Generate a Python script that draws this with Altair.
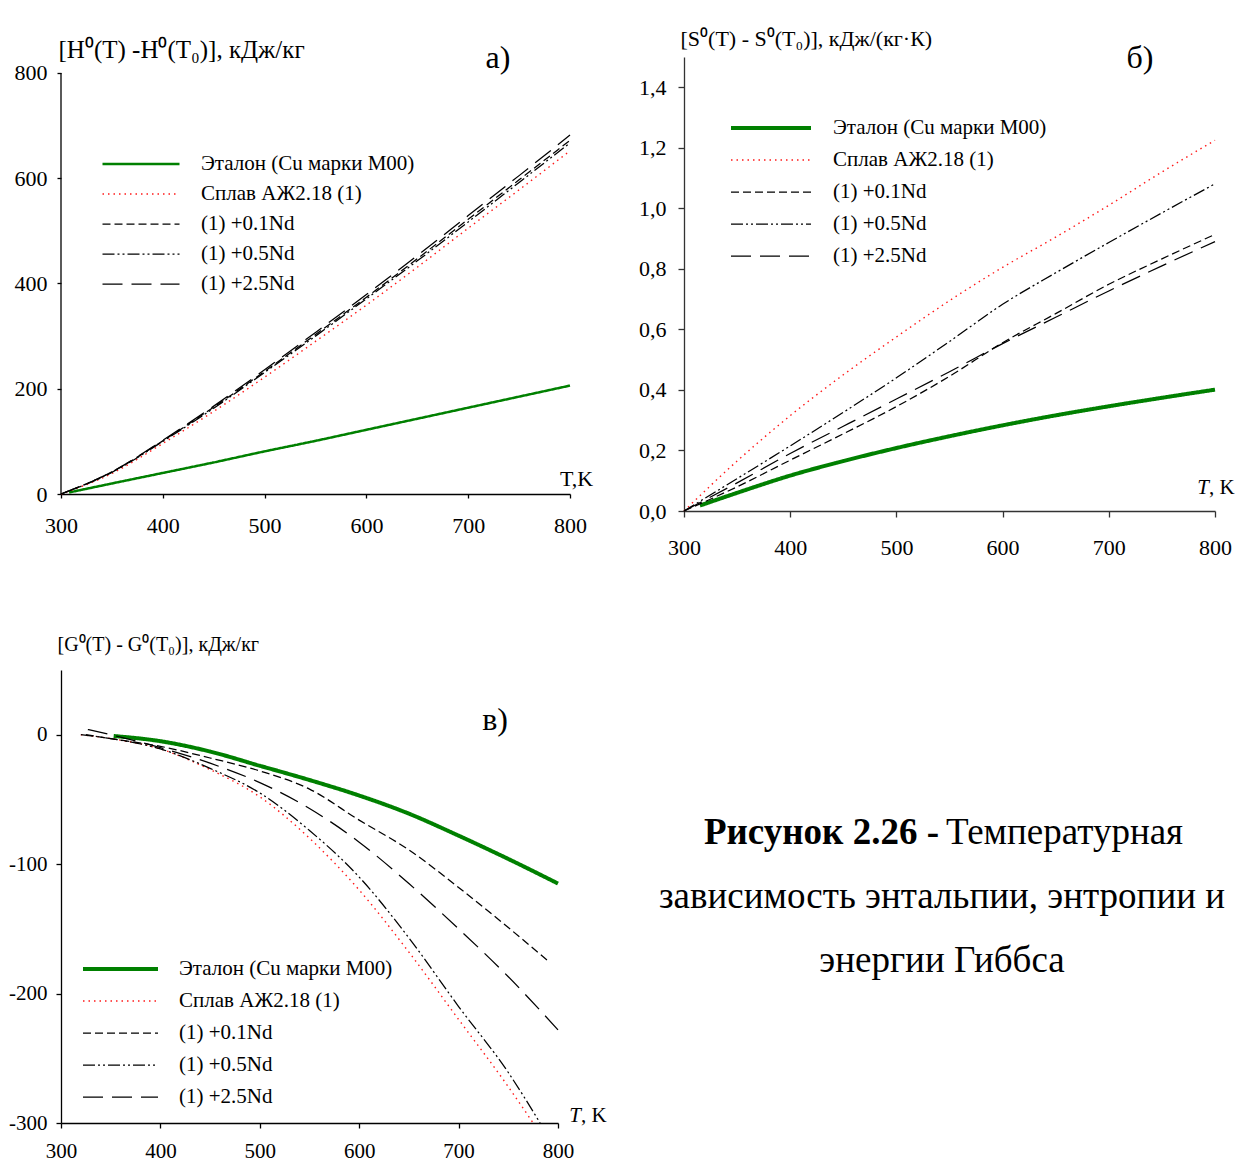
import altair as alt
import pandas as pd

FONT = "Liberation Serif"

SERIES = ["Эталон (Cu марки М00)", "Сплав АЖ2.18 (1)", "(1) +0.1Nd", "(1) +0.5Nd", "(1) +2.5Nd"]
COLORS = ["#008000", "#ff1a1a", "#000000", "#000000", "#000000"]
DASHES = [[1, 0], [1.5, 4], [8, 4], [12, 3, 2, 3, 2, 3], [20, 9]]

# ---------- panel a: enthalpy ----------
T_A = [300, 350, 400, 450, 500, 550, 600, 650, 700, 750, 800]
T_A_ETALON = [308, 350, 400, 450, 500, 550, 600, 650, 700, 750, 800]
H_ETALON = [3, 20, 40, 60, 81, 101, 122, 143, 164, 185, 206]
H_SPLAV = [0, 39, 96, 157, 222, 290, 359, 431, 505, 578, 652]
H_01 = [0, 42, 101, 165, 233, 303, 374, 447, 522, 597, 672]
H_05 = [0, 41, 100, 163, 231, 300, 371, 443, 517, 592, 667]
H_25 = [0, 42, 102, 167, 236, 307, 379, 453, 529, 605, 682]
H_TICKS = [0, 200, 400, 600, 800]

# ---------- panel b: entropy ----------
T_B = [300, 350, 400, 450, 500, 550, 600, 650, 700, 750, 800]
T_B_ETALON = [315, 350, 400, 450, 500, 550, 600, 650, 700, 750, 800]
S_ETALON = [0.018, 0.06, 0.117, 0.165, 0.208, 0.247, 0.283, 0.316, 0.346, 0.374, 0.401]
S_SPLAV = [0, 0.165, 0.315, 0.45, 0.575, 0.695, 0.805, 0.905, 1.01, 1.12, 1.225]
S_01 = [0, 0.08, 0.168, 0.255, 0.345, 0.445, 0.556, 0.652, 0.749, 0.833, 0.914]
S_05 = [0, 0.107, 0.215, 0.326, 0.44, 0.56, 0.683, 0.787, 0.887, 0.985, 1.081]
S_25 = [0, 0.093, 0.19, 0.28, 0.37, 0.46, 0.553, 0.64, 0.727, 0.81, 0.89]
S_TICKS = [0, 0.2, 0.4, 0.6, 0.8, 1.0, 1.2, 1.4]

# ---------- panel c: Gibbs energy ----------
T_C_ETALON = [353, 400, 450, 500, 550, 600, 650, 700, 750, 800]
G_ETALON = [-1, -5, -13, -24, -35, -47, -61, -78, -96, -115]
T_C_SPLAV = [320, 350, 400, 450, 500, 550, 600, 650, 700, 750, 775]
G_SPLAV = [0, -3, -11, -27, -48, -80, -120, -168, -220, -272, -300]
T_C_01 = [325, 350, 400, 450, 500, 550, 600, 650, 700, 750, 792]
G_01 = [0, -3, -9, -18, -28, -42, -66, -89, -118, -149, -176]
T_C_05 = [320, 350, 400, 450, 500, 550, 600, 650, 700, 750, 782]
G_05 = [0, -3, -11, -26, -45, -74, -110, -157, -210, -261, -300]
T_C_25 = [327, 350, 400, 450, 500, 550, 600, 650, 700, 750, 800]
G_25 = [4, 0, -10, -22, -37, -57, -83, -115, -150, -187, -228]
G_TICKS = [-300, -200, -100, 0]

X_TICKS = [300, 400, 500, 600, 700, 800]

CAPTION_BOLD = "Рисунок 2.26 - "
CAPTION_LINES = ["Температурная", "зависимость энтальпии, энтропии и", "энергии Гиббса"]


def long_df(field, pairs):
    rows = []
    for name, (ts, vs) in zip(SERIES, pairs):
        for t, v in zip(ts, vs):
            rows.append({"T": t, "v": v, field: name})
    return pd.DataFrame(rows)


df_a = long_df("sa", [(T_A_ETALON, H_ETALON), (T_A, H_SPLAV), (T_A, H_01), (T_A, H_05), (T_A, H_25)])
df_b = long_df("sb", [(T_B_ETALON, S_ETALON), (T_B, S_SPLAV), (T_B, S_01), (T_B, S_05), (T_B, S_25)])
df_c = long_df("sc", [(T_C_ETALON, G_ETALON), (T_C_SPLAV, G_SPLAV), (T_C_01, G_01),
                      (T_C_05, G_05), (T_C_25, G_25)])

ONE = pd.DataFrame({"k": [0]})


def spacer(x1, y1, x2, y2):
    # invisible rule that only fixes the extent of a cell for the concat layout
    return alt.Chart(ONE).mark_rule(opacity=0, strokeWidth=0.1).encode(
        x=alt.value(x1), y=alt.value(y1), x2=alt.value(x2), y2=alt.value(y2))


def label(txt, x, y, size=32, weight="normal", align="center", style="normal"):
    return alt.Chart(pd.DataFrame({"t": [txt]})).mark_text(
        font=FONT, fontSize=size, fontWeight=weight, fontStyle=style, align=align,
        baseline="middle", color="black"
    ).encode(text="t:N", x=alt.value(x), y=alt.value(y))


def t_k_title(xb, y):
    # "T, K" with an italic T, xb = boundary between "T" and ", K"
    return [label("T", xb, y, size=21, align="right", style="italic"),
            label(", K", xb, y, size=21, align="left")]


def lines(df, field, widths, ydom, yvals, ytitle, ytx, yty, ytsize, xtitle, leg, label_expr,
          lab_size=22, xpad=17, ypad=10, tick=5, axcolor="black", ydomain=True):
    legend = alt.Legend(title=None, orient="none", legendX=leg["x"], legendY=leg["y"],
                        symbolType="stroke", symbolSize=leg["len"] ** 2, labelOffset=leg["off"],
                        labelFont=FONT, labelFontSize=leg["fs"], labelColor="black",
                        labelLimit=500, clipHeight=leg["row"], rowPadding=0, padding=0,
                        symbolFillColor="transparent")
    xaxis_kw = dict(values=X_TICKS, format="d", labelFont=FONT, labelFontSize=lab_size,
                    labelColor="black", labelPadding=xpad, tickSize=tick, tickColor=axcolor,
                    tickWidth=1.3, domainColor=axcolor, domainWidth=1.3, grid=False,
                    labelFlush=False)
    if xtitle:
        xaxis_kw.update(title=xtitle["text"], titleX=xtitle["x"], titleY=xtitle["y"],
                        titleAlign="center", titleBaseline="alphabetic", titleAngle=0,
                        titleFont=FONT, titleFontSize=22, titleFontWeight="normal",
                        titleColor="black")
    else:
        xaxis_kw.update(title=None)
    return alt.Chart(df).mark_line(interpolate="monotone").encode(
        x=alt.X("T:Q", scale=alt.Scale(domain=[300, 800], nice=False, zero=False),
                axis=alt.Axis(**xaxis_kw)),
        y=alt.Y("v:Q", scale=alt.Scale(domain=ydom, nice=False, zero=False),
                axis=alt.Axis(values=yvals, title=ytitle, titleAngle=0, titleAlign="left",
                              titleBaseline="alphabetic", titleX=ytx, titleY=yty, titleFont=FONT,
                              titleFontSize=ytsize, titleFontWeight="normal", titleColor="black",
                              labelFont=FONT, labelFontSize=lab_size, labelColor="black",
                              labelPadding=ypad, labelExpr=label_expr, tickSize=tick,
                              tickColor=axcolor, tickWidth=1.3, domain=ydomain,
                              domainColor=axcolor, domainWidth=1.3, grid=False)),
        color=alt.Color(f"{field}:N", scale=alt.Scale(domain=SERIES, range=COLORS), legend=legend),
        strokeDash=alt.StrokeDash(f"{field}:N", scale=alt.Scale(domain=SERIES, range=DASHES),
                                  legend=legend),
        strokeWidth=alt.StrokeWidth(f"{field}:N",
                                    scale=alt.Scale(type="ordinal", domain=SERIES, range=widths),
                                    legend=legend),
    )


PLAIN = "datum.value + ''"
W_THIN = 1.25

# panel a: plot area 509 x 437, axis line drawn only from 0 to 800 (top 16 px are free)
lines_a = lines(df_a, "sa", [2.5, 1.4, W_THIN, W_THIN, W_THIN], [0, 830.4], H_TICKS,
                "[H⁰(T) -H⁰(T₀)], кДж/кг", -3, 0, 25, dict(text="T,K", x=515, y=-9),
                dict(x=40, y=92, len=77, off=20, fs=21, row=30), PLAIN, xpad=17, ypad=10, tick=4,
                ydomain=False)
axis_a = alt.Chart(pd.DataFrame({"T": [300], "v0": [H_TICKS[0]], "v1": [H_TICKS[-1]]})).mark_rule(
    color="black", strokeWidth=1.3).encode(x="T:Q", y="v0:Q", y2="v1:Q")
panel_a = alt.layer(lines_a, axis_a, label("а)", 437, 1), spacer(-53, -42, 547, 514)).properties(
    width=509, height=437)

# panel c (plot area 497 x 453)
lines_c = lines(df_c, "sc", [4, 1.4, W_THIN, W_THIN, W_THIN], [-300, 50], G_TICKS,
                "[G⁰(T) - G⁰(T₀)], кДж/кг", -4, -20, 20, None,
                dict(x=20, y=283, len=75, off=19, fs=21, row=32), PLAIN,
                lab_size=21, xpad=12, ypad=9, tick=5)
panel_c = alt.layer(lines_c, label("в)", 434, 50), *t_k_title(520, 446),
                    spacer(-53, -45, 547, 0)).properties(width=497, height=453)

# panel b (plot area 531 x 454)
lines_b = lines(df_b, "sb", [4, 1.4, W_THIN, W_THIN, W_THIN], [0, 1.5], S_TICKS,
                "[S⁰(T) - S⁰(T₀)], кДж/(кг·К)", -4, -12, 22, None,
                dict(x=45, y=55, len=80, off=20, fs=21, row=32),
                "replace(format(datum.value, '.1f'), '.', ',')",
                xpad=20, ypad=12, tick=6, axcolor="#333333")
panel_b = alt.layer(lines_b, label("б)", 456, 1), *t_k_title(525, 431),
                    spacer(-64, -42, 0, 514)).properties(width=531, height=454)

# caption block (origin aligned with panel b's plot left)
caption = alt.layer(
    spacer(0, 0, 0, 0),
    label(CAPTION_BOLD, 255, 242, size=37, weight="bold", align="right"),
    label(CAPTION_LINES[0], 262, 242, size=37, align="left"),
    label(CAPTION_LINES[1], 258, 306, size=37),
    label(CAPTION_LINES[2], 258, 370, size=37),
).properties(width=531, height=400)

RES = dict(color="independent", strokeDash="independent", strokeWidth="independent")

left = alt.vconcat(panel_a, panel_c, spacing=54).resolve_scale(**RES)
right = alt.vconcat(panel_b, caption, spacing=20).resolve_scale(**RES)
chart = alt.hconcat(left, right, spacing=12).resolve_scale(**RES).properties(
    padding={"left": 0, "top": 7, "right": 0, "bottom": 0}, background="white"
).configure_view(strokeWidth=0)

chart.save("out.html", embed_options={"renderer": "svg", "actions": False})
